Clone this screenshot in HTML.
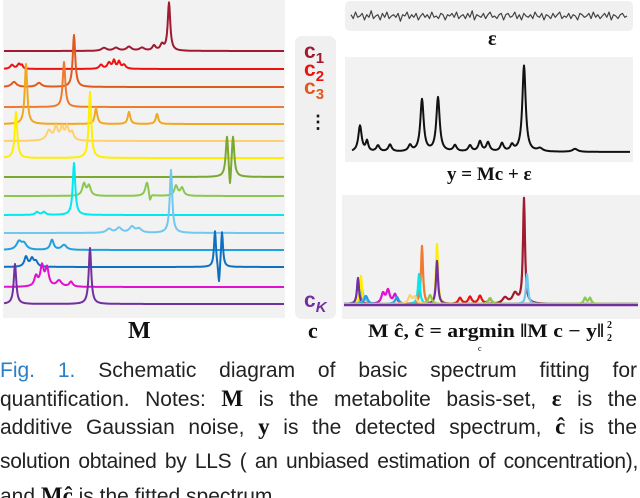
<!DOCTYPE html>
<html><head><meta charset="utf-8"><style>
html,body{margin:0;padding:0;background:#fff;}
svg{display:block;}
.ser{font-family:"Liberation Serif",serif;font-weight:bold;fill:#111;}
.ln{position:absolute;left:0;width:637px;font-family:"Liberation Sans",sans-serif;font-size:21px;line-height:22px;color:#222;text-align:justify;text-align-last:justify;white-space:nowrap;}
.ln b{font-family:"Liberation Serif",serif;font-size:23px;color:#111;}
#wrap{position:relative;width:640px;height:498px;overflow:hidden;}
</style></head><body>
<div id="wrap">
<svg id="fig" width="640" height="498" viewBox="0 0 640 498">
<rect x="3" y="0" width="282" height="318" fill="#f2f2f2"/>
<rect x="295" y="36" width="41" height="283" rx="7" fill="#f0f0f0"/>
<rect x="345" y="1" width="288" height="30" rx="5" fill="#f0f0f0"/>
<rect x="345" y="57" width="288" height="105" fill="#f2f2f2"/>
<rect x="342" y="195" width="298" height="124" fill="#f2f2f2"/>
<g id="basis"></g>
<g id="noise"></g>
<g id="meas"></g>
<g id="fit"></g>
<g font-family="Liberation Sans,sans-serif" font-weight="bold" font-size="21">
<text x="304" y="58" fill="#a01a30">c<tspan font-size="15" dy="5">1</tspan></text>
<text x="304" y="76" fill="#ee1111">c<tspan font-size="15" dy="5">2</tspan></text>
<text x="304" y="94" fill="#e05a1e">c<tspan font-size="15" dy="5">3</tspan></text>
<text x="309" y="128" fill="#111" font-size="18">⋮</text>
<text x="304" y="307" fill="#7030a0">c<tspan font-size="15" font-style="italic" dy="5">K</tspan></text>
</g>
<text class="ser" x="128" y="338" font-size="24">M</text>
<text class="ser" x="308" y="338" font-size="22">c</text>
<text class="ser" x="488" y="45" font-size="20">ε</text>
<text class="ser" x="447" y="180" font-size="19">y = Mc + ε</text>
<text class="ser" x="368" y="337" font-size="19" textLength="236" lengthAdjust="spacingAndGlyphs">M ĉ,  ĉ = argmin ‖M c − y‖</text>
<text class="ser" x="607" y="328" font-size="10">2</text>
<text class="ser" x="607" y="341" font-size="10">2</text>
<text x="478" y="351" font-size="8" font-family="Liberation Serif,serif">c</text>
</svg>
<div class="ln" style="top:360px"><span style="color:#2a7fc8">Fig. 1.</span> Schematic diagram of basic spectrum fitting for</div>
<div class="ln" style="top:388px">quantification. Notes: <b>M</b> is the metabolite basis-set, <b>ε</b> is the</div>
<div class="ln" style="top:416px">additive Gaussian noise, <b>y</b> is the detected spectrum, <b>ĉ</b> is the</div>
<div class="ln" style="top:451px;width:638px;letter-spacing:-0.3px">solution obtained by LLS ( an unbiased estimation of concentration),</div>
<div class="ln" style="top:485px;text-align-last:left">and <b>Mĉ</b> is the fitted spectrum.</div>
</div>
<script>
const NS="http://www.w3.org/2000/svg";
const basisColors=["#a01a30","#ee1111","#e05a1e","#f07a30","#f0a820","#ffd070","#ffee00","#7aa830","#8ac850","#00e8f0","#70c8f0","#20a0e0","#1070c0","#e010d0","#7030a0"];
const basisBaselines=[51,69,87,107,124,141,158,177,196,215,233,250,267,287,304];
const basisPeaks=[
[[165,48,1.5],[100,3,3],[112,3,3],[125,4,3],[138,3,3],[150,5,2],[158,6,2]],
[[8,4,2],[15,5,2],[18,3,1],[97,4,2],[105,6,2],[110,8,1.5],[115,7,1.5],[120,4,2]],
[[70,52,1.5],[10,5,3],[35,4,3]],
[[60,45,1.5]],
[[22,60,1.5],[92,16,1.5],[125,12,1.5],[153,10,1.5]],
[[45,10,3],[52,13,2],[58,12,2],[63,13,2],[68,8,2]],
[[12,46,1.5],[86,66,1.5]],
[[223,40,1.5],[229,40,1.5],[226,-22,1]],
[[80,12,2],[85,10,2],[143,14,2],[146,-8,1],[172,10,2],[178,8,2]],
[[70,52,1.5],[33,3,2],[40,3,2]],
[[167,63,1.5],[105,4,3],[115,5,3],[128,6,3],[135,4,3]],
[[15,8,3],[20,6,3],[48,10,2],[60,5,3]],
[[211,36,1.2],[218,36,1.2],[215,-22,1],[22,10,2],[28,8,2],[32,5,2]],
[[32,10,2],[38,20,2],[43,18,2],[55,6,3],[67,5,2]],
[[11,40,1.5],[86,56,1.5]]
];
const noiseVals=[1,-2,3,-1,0,2,-3,1,-1,4,-2,0,1,-3,2,-1,3,-2,0,1,-1,2,-4,1,0,3,-2,1,-1,2,-3,0,2,-1,1,-2,3,-1,0,-2,2,1,-3,1,0,2,-1,3,-2,0,1,-2,2,-1,4,-3,1,0,-1,2,-2,1,3,-1,0,-2,1,2,-3,1,2,-1,0,3,-2,1,-3,2,0,-1,1,-2,3,0,-1,2,-3,1,0,-2,2,-1,1,3,-2,0,-1,2,-2,1,0,-3,2,1,-1,0,2,-2,3,-1,1,-2,0,2,-1,3,-3,1,0,-2,1,2,-1,0];
const measPeaks=[[360,26,2],[367,10,1.5],[378,6,2],[390,7,2],[410,6,2],[422,52,2],[438,54,2],[455,6,2],[470,6,2],[480,10,2],[488,9,2],[502,8,2],[512,6,2],[524,86,2],[540,3,3],[575,3,3]];
const fitColors=["#a01a30","#ee1111","#f07a30","#00e8f0","#ffee00","#7030a0","#70c8f0","#e010d0","#20a0e0","#8ac850","#ffd070"];
const fitPeaks=[
[[524,105,1.2],[515,10,3],[505,6,3]],
[[460,6,2],[470,7,2],[480,8,2],[490,5,2]],
[[422,58,1.2],[360,10,1.5]],
[[419,30,1.2],[362,15,1.5]],
[[437,60,1.2],[361,28,1.2]],
[[437,43,1.2],[358,26,1.2]],
[[527,30,1.2],[365,8,2]],
[[383,10,2],[388,13,2],[395,9,2]],
[[366,8,2],[397,7,2]],
[[430,9,2],[490,6,2],[585,6,1.5],[590,6,1.5]],
[[410,8,2],[415,7,2]]
];
function spec(peaks,x){let s=0;for(const p of peaks){const d=(x-p[0])/p[2];s+=p[1]/(1+d*d);}return s;}
function pathFor(peaks,base,x0,x1,scale){let d="";for(let x=x0;x<=x1;x+=0.5){const y=base-spec(peaks,x)*scale;d+=(x===x0?"M":"L")+x.toFixed(1)+","+y.toFixed(1);}return d;}
function addPath(g,d,color,w,name){const p=document.createElementNS(NS,"path");p.setAttribute("d",d);p.setAttribute("fill","none");p.setAttribute("stroke",color);p.setAttribute("stroke-width",w);p.setAttribute("stroke-linejoin","round");


g.appendChild(p);}
const xB=x=>x+4;
const gB=document.getElementById("basis");
basisPeaks.forEach((pk,i)=>{const shifted=pk.map(p=>[xB(p[0]),p[1],p[2]]);addPath(gB,pathFor(shifted,basisBaselines[i],4,284,1),basisColors[i],2,"basis-trace-"+(i+1));});
let nd="";const nx0=351,nstep=(627-351)/(noiseVals.length-1);
noiseVals.forEach((v,i)=>{nd+=(i?"L":"M")+(nx0+i*nstep).toFixed(1)+","+(16-v*1.3).toFixed(1);});
addPath(document.getElementById("noise"),nd,"#444",1.2,"noise-line");
addPath(document.getElementById("meas"),pathFor(measPeaks,152,352,630,1),"#111",2,"measured-line");
const gF=document.getElementById("fit");
fitPeaks.forEach((pk,i)=>{addPath(gF,pathFor(pk,304,344,638,1),fitColors[i],2.2,"fitted-trace-"+(i+1));});
addPath(gF,"M344,305L638,305","#7030a0",2.5,"fit-baseline");
</script>
</body></html>
